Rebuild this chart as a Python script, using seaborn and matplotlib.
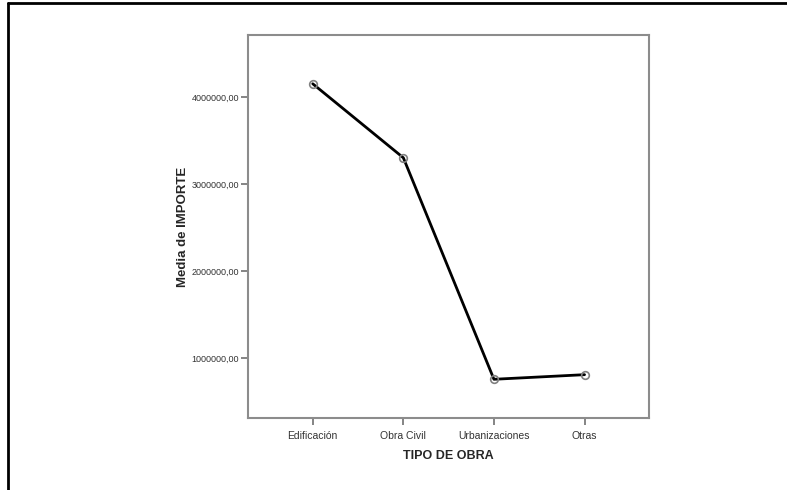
import numpy as np
import pandas as pd
import seaborn as sns
import matplotlib.pyplot as plt
from matplotlib.lines import Line2D
from matplotlib.ticker import FuncFormatter

categorias = ["Edificación", "Obra Civil", "Urbanizaciones", "Otras"]
media_importe = [4150000, 3300000, 755000, 808000]
yticks = [1000000, 2000000, 3000000, 4000000]

sns.set_theme(style="white")
plt.rcParams['font.family'] = ['Liberation Sans', 'DejaVu Sans']

df = pd.DataFrame({"tipo": categorias, "media": media_importe})
df["pos"] = np.arange(len(categorias))

fig = plt.figure(figsize=(7.87, 4.9), dpi=100)
ax = fig.add_axes([0.3145, 0.1469, 0.510, 0.7816])

sns.lineplot(data=df, x="pos", y="media", ax=ax, color="black", linewidth=2,
             marker="o", markersize=5.5, markerfacecolor="none",
             markeredgecolor="#808080", markeredgewidth=1.2)

ax.set_xlim(-0.72, 3.71)
ax.set_ylim(310000, 4710000)
ax.set_xticks(df["pos"])
ax.set_xticklabels(categorias)
ax.set_yticks(yticks)
ax.yaxis.set_major_formatter(FuncFormatter(lambda v, p: f"{int(v)},00"))

for s in ax.spines.values():
    s.set_color("#8c8c8c")
    s.set_linewidth(1.5)
ax.tick_params(axis="both", bottom=True, left=True, direction="out", length=5,
               width=1.2, color="#707070", labelsize=7.5, labelcolor="#333333", pad=4)
ax.tick_params(axis="y", labelsize=6.5, pad=1)

ax.set_xlabel("TIPO DE OBRA", fontsize=9, fontweight="bold", labelpad=7)
ax.set_ylabel("Media de IMPORTE", fontsize=9.5, fontweight="bold", labelpad=2)

# marco exterior
fig.add_artist(Line2D([8 / 787, 1], [1 - 3 / 490, 1 - 3 / 490], color="black", linewidth=2))
fig.add_artist(Line2D([8 / 787, 8 / 787], [0, 1 - 3 / 490], color="black", linewidth=2))

fig.savefig("out.png", dpi=100)
